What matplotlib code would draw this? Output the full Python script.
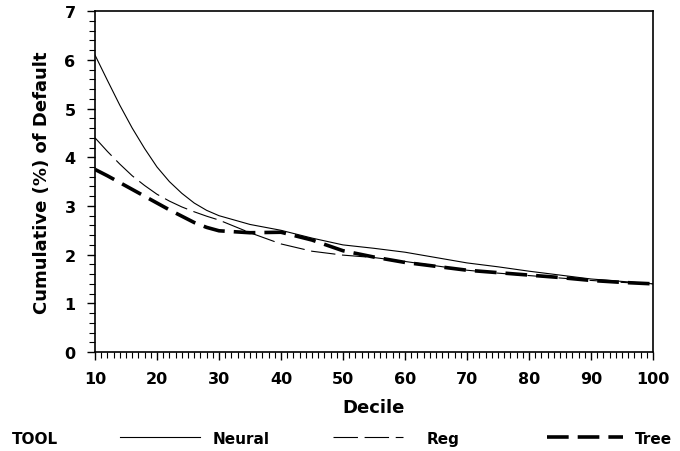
import matplotlib
matplotlib.use("Agg")
import matplotlib.pyplot as plt
from matplotlib.lines import Line2D
from matplotlib.ticker import MultipleLocator

# cumulative % of default by decile
decile = [10, 12, 14, 16, 18, 20, 22, 24, 26, 28, 30, 35, 40, 45, 50, 55, 60, 65, 70, 75, 80, 85, 90, 95, 100]
neural = [6.10, 5.58, 5.07, 4.60, 4.18, 3.80, 3.50, 3.26, 3.06, 2.91, 2.80, 2.62, 2.50, 2.34, 2.20, 2.13, 2.05, 1.94, 1.83, 1.75, 1.66, 1.58, 1.50, 1.45, 1.40]
reg = [4.40, 4.12, 3.86, 3.62, 3.42, 3.24, 3.10, 2.98, 2.88, 2.79, 2.71, 2.45, 2.22, 2.07, 1.99, 1.94, 1.86, 1.77, 1.68, 1.62, 1.57, 1.52, 1.47, 1.43, 1.40]
tree = [3.75, 3.62, 3.48, 3.34, 3.20, 3.06, 2.92, 2.79, 2.66, 2.56, 2.49, 2.45, 2.46, 2.30, 2.08, 1.95, 1.84, 1.76, 1.68, 1.63, 1.58, 1.53, 1.47, 1.43, 1.40]

plt.rcParams['font.family'] = 'DejaVu Sans'
plt.rcParams['font.weight'] = 'bold'

fig = plt.figure(figsize=(6.8, 4.52), dpi=100)
ax = fig.add_axes([0.1397, 0.219, 0.8206, 0.754])

ax.plot(decile, neural, color='black', lw=0.8, solid_joinstyle='round')
ax.plot(decile, reg, color='black', lw=0.8, dashes=(22, 6))
ax.plot(decile, tree, color='black', lw=2.6, dashes=(6, 2.5))

ax.set_xlim(10, 100)
ax.set_ylim(0, 7)
ax.xaxis.set_major_locator(MultipleLocator(10))
ax.xaxis.set_minor_locator(MultipleLocator(1))
ax.yaxis.set_major_locator(MultipleLocator(1))
ax.yaxis.set_minor_locator(MultipleLocator(0.2))
ax.tick_params(which='major', length=6, width=1, labelsize=11.5, pad=8)
ax.tick_params(which='minor', length=4, width=0.8)
for s in ax.spines.values():
    s.set_linewidth(1.2)

ax.set_xlabel('Decile', fontsize=13, fontweight='bold', labelpad=8)
ax.set_ylabel('Cumulative (%) of Default', fontsize=13, fontweight='bold', labelpad=10)

# legend row at the bottom
ty = 1 - 440 / 452
ly = 1 - 438 / 452
fig.text(12 / 680, ty, 'TOOL', fontsize=11, fontweight='bold', va='center')
fig.add_artist(Line2D([120 / 680, 200 / 680], [ly, ly], color='black', lw=0.8))
fig.text(213 / 680, ty, 'Neural', fontsize=11, fontweight='bold', va='center')
fig.add_artist(Line2D([333 / 680, 403 / 680], [ly, ly], color='black', lw=0.8, dashes=(22, 6)))
fig.text(427 / 680, ty, 'Reg', fontsize=11, fontweight='bold', va='center')
fig.add_artist(Line2D([547 / 680, 623 / 680], [ly, ly], color='black', lw=2.6, dashes=(6, 2.5)))
fig.text(635 / 680, ty, 'Tree', fontsize=11, fontweight='bold', va='center')

fig.savefig('out.png', dpi=100)
